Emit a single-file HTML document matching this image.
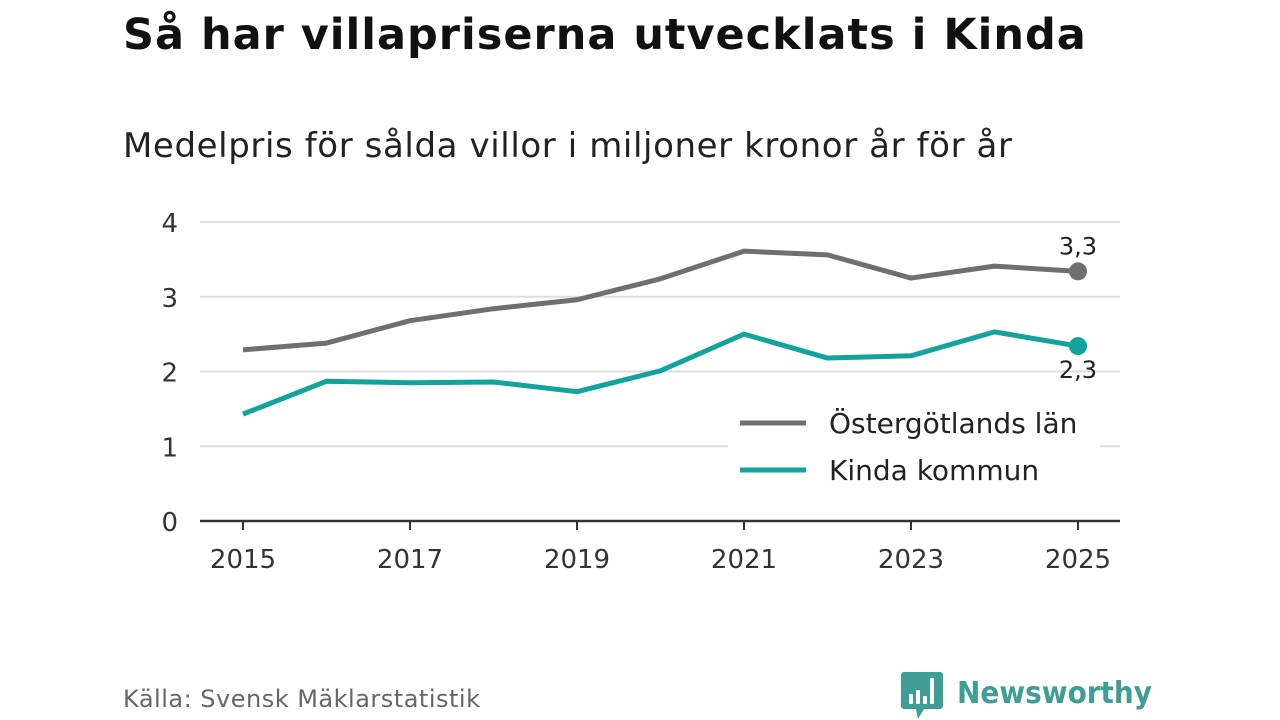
<!DOCTYPE html>
<html><head><meta charset="utf-8"><style>
body{margin:0;background:#fff;width:1280px;height:720px;overflow:hidden;font-family:"DejaVu Sans","Liberation Sans",sans-serif;}
#t{position:absolute;left:123px;top:10px;font-size:43px;font-weight:bold;color:#111;margin:0;letter-spacing:1px;}
#s{position:absolute;left:123px;top:126px;font-size:34px;color:#222;letter-spacing:0.6px;}
#src{position:absolute;left:123px;top:685px;font-size:24px;color:#666;letter-spacing:0.5px;}
svg{position:absolute;left:0;top:0;}
</style></head><body>
<h1 id="t">Så har villapriserna utvecklats i Kinda</h1>
<div id="s">Medelpris för sålda villor i miljoner kronor år för år</div>
<div id="src">Källa: Svensk Mäklarstatistik</div>
<svg id="c" width="1280" height="720"></svg>
<script>
const years=[2015,2016,2017,2018,2019,2020,2021,2022,2023,2024,2025];
const lanValues=[2.29,2.38,2.68,2.84,2.96,3.24,3.61,3.56,3.25,3.41,3.34];
const kindaValues=[1.43,1.87,1.85,1.86,1.73,2.01,2.50,2.18,2.21,2.53,2.34];
const yTicks=[0,1,2,3,4];
const xTicks=[2015,2017,2019,2021,2023,2025];
const ns="http://www.w3.org/2000/svg",svg=document.getElementById('c');
const X=v=>243+(v-2015)*83.5, Y=v=>521-v*74.75;
function el(t,a,p){const e=document.createElementNS(ns,t);for(const k in a)e.setAttribute(k,a[k]);(p||svg).appendChild(e);return e;}
yTicks.forEach(v=>{
 if(v>0){const g=el('line',{x1:200,x2:1120,y1:Y(v),y2:Y(v),stroke:'#ddd','stroke-width':2});
 
 }
 const t=el('text',{x:178,y:Y(v)+10,'text-anchor':'end','font-size':26,fill:'#333'});t.textContent=v;
 
 
});
const ax=el('line',{x1:200,x2:1120,y1:521,y2:521,stroke:'#333','stroke-width':2.5});


xTicks.forEach(v=>{
 el('line',{x1:X(v),x2:X(v),y1:521,y2:530,stroke:'#333','stroke-width':2});
 const t=el('text',{x:X(v),y:568,'text-anchor':'middle','font-size':26,fill:'#333'});t.textContent=v;
 
 
});
function series(vals,col,name,lblY){
 const p=el('polyline',{points:vals.map((v,i)=>X(years[i])+','+Y(v)).join(' '),fill:'none',stroke:col,'stroke-width':5,'stroke-linejoin':'round'});
 
 
 const n=vals.length-1;
 const d=el('circle',{cx:X(years[n]),cy:Y(vals[n]),r:9,fill:col});
 
 
 const t=el('text',{x:X(years[n]),y:Y(vals[n])+lblY,'text-anchor':'middle','font-size':24,fill:'#222'});
 t.textContent=vals[n].toFixed(1).replace('.',',');
 
 
}
series(lanValues,'#6f6e73','ostergotland',-17);
series(kindaValues,'#12a39b','kinda',32);
el('rect',{x:728,y:398,width:372,height:100,fill:'#fff'});
[['Östergötlands län','#6f6e73',423],['Kinda kommun','#12a39b',470]].forEach(([l,c,y])=>{
 const g=el('g',{});
 
 
 el('line',{x1:740,x2:806,y1:y,y2:y,stroke:c,'stroke-width':5},g);
 const t=el('text',{x:829,y:y+10,'font-size':28,fill:'#222'},g);t.textContent=l;
});
const logo=el('g',{});


el('path',{d:'M904 672 h36 a3 3 0 0 1 3 3 v31 a3 3 0 0 1 -3 3 h-16 l-6 10 l-2 -10 h-12 a3 3 0 0 1 -3 -3 v-31 a3 3 0 0 1 3 -3z',fill:'#3f9e94'},logo);
[[909,694,5],[916,690,5],[923,696,5],[930,678,5]].forEach(([x,y,w])=>el('rect',{x:x,y:y,width:w-1,height:704-y,fill:'#fff',rx:1},logo));
const lt=el('text',{x:957,y:703,'font-size':30,'font-weight':'bold',fill:'#3f9e94',textLength:195,lengthAdjust:'spacingAndGlyphs'},logo);lt.textContent='Newsworthy';
</script>
</body></html>
